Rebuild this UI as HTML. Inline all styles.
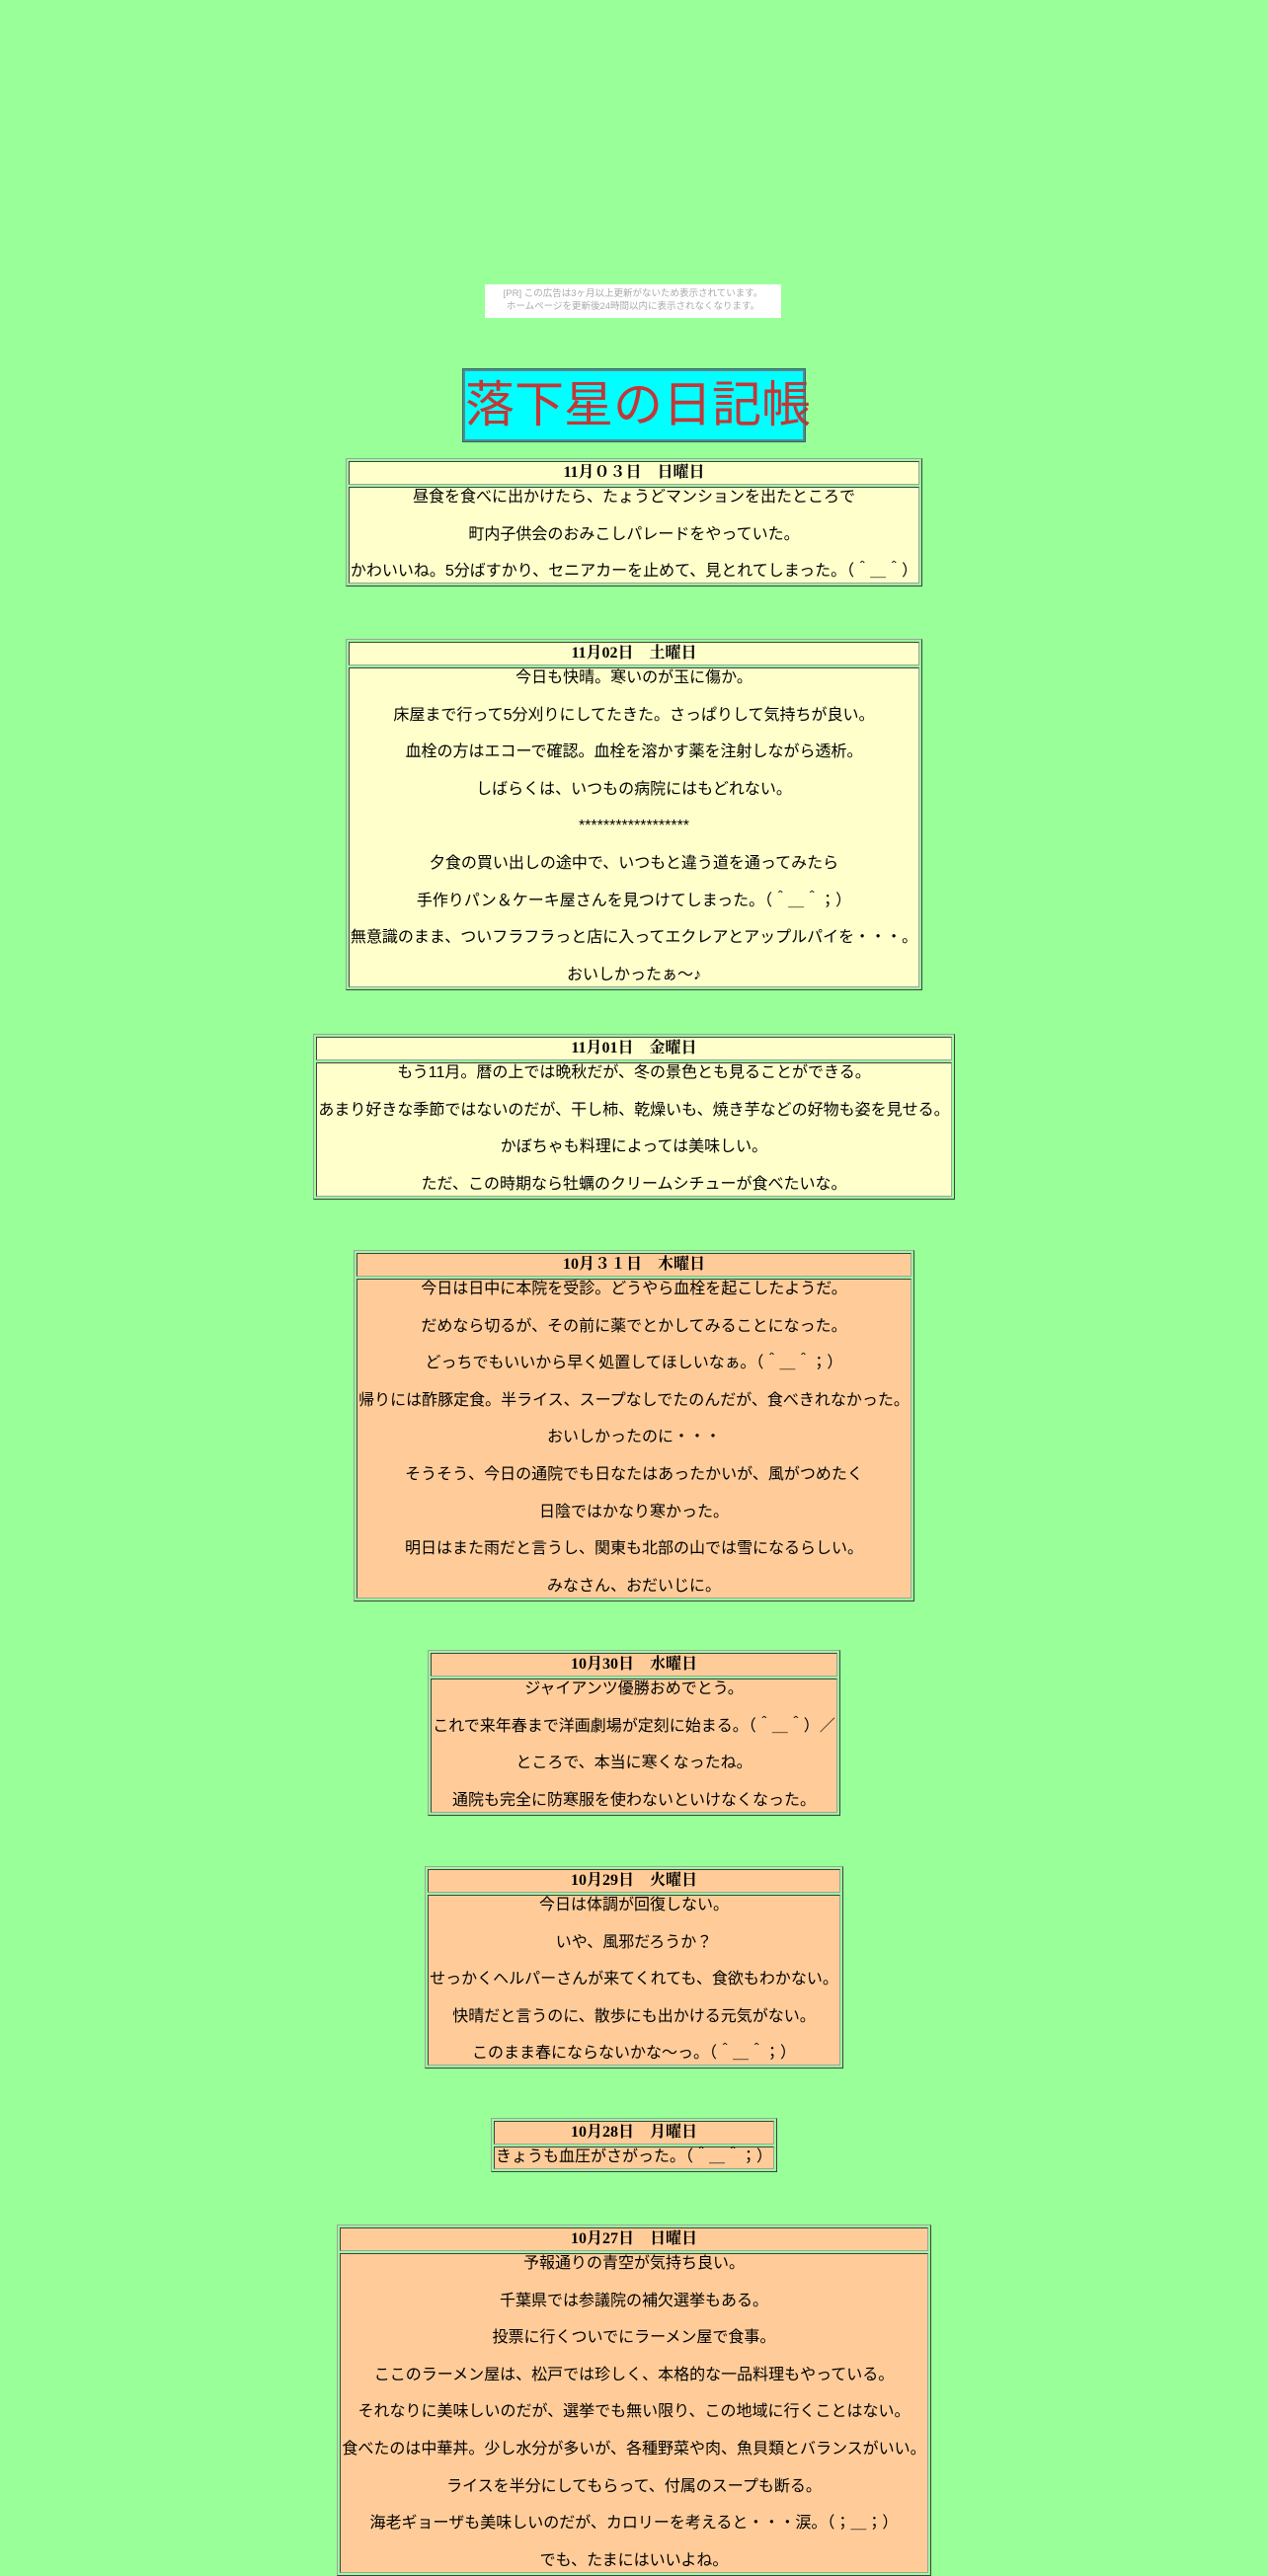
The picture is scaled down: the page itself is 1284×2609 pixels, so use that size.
<!DOCTYPE html>
<html><head><meta charset="utf-8">
<style>
html,body{margin:0;padding:0;background:#99ff99;}
body{width:1284px;height:2568px;position:relative;overflow:hidden;font-family:"Liberation Sans","Noto Sans CJK JP",sans-serif;color:#000;}
.ad{position:absolute;left:491px;top:288px;width:300px;height:34px;background:#fff;color:#aaa;font-size:9.5px;line-height:13px;text-align:center;padding-top:3px;box-sizing:border-box;}
.title{position:absolute;left:469px;top:374px;width:346px;height:73px;box-sizing:border-box;border:2px solid #5a8a8a;outline:1px solid #2a6a6a;background:#00ffff;color:#c03838;font-size:50px;line-height:69px;text-align:center;white-space:nowrap;font-family:"Liberation Sans","Noto Sans CJK JP",sans-serif;}
.w{position:absolute;left:0;width:1284px;text-align:center;}
table{display:inline-table;border-collapse:separate;border-spacing:2px;border:1px solid;border-color:#a0a0a0 #404040 #404040 #a0a0a0;margin:0 auto;}
td{border:1px solid;border-color:#404040 #a0a0a0 #a0a0a0 #404040;text-align:center;font-size:16px;white-space:nowrap;}
td.h{font-family:"Liberation Serif","Noto Serif CJK SC","Noto Sans CJK JP",serif;font-weight:bold;line-height:20px;padding:1px 1px;}
td.b{line-height:18.8px;padding:1px 1px;}
.y td{background:#ffffcc;}
.o td{background:#ffcc99;}
</style></head><body>
<div class="ad">[PR] この広告は3ヶ月以上更新がないため表示されています。<br>ホームページを更新後24時間以内に表示されなくなります。</div>
<div class="title">落下星の日記帳</div>

<div class="w" style="top:464px"><table class="y"><tr><td class="h">11月０３日　日曜日</td></tr><tr><td class="b">昼食を食べに出かけたら、たょうどマンションを出たところで<br><br>町内子供会のおみこしパレードをやっていた。<br><br>かわいいね。5分ばすかり、セニアカーを止めて、見とれてしまった。（＾＿＾）</td></tr></table></div>

<div class="w" style="top:647px"><table class="y"><tr><td class="h">11月02日　土曜日</td></tr><tr><td class="b">今日も快晴。寒いのが玉に傷か。<br><br>床屋まで行って5分刈りにしてたきた。さっぱりして気持ちが良い。<br><br>血栓の方はエコーで確認。血栓を溶かす薬を注射しながら透析。<br><br>しばらくは、いつもの病院にはもどれない。<br><br>******************<br><br>夕食の買い出しの途中で、いつもと違う道を通ってみたら<br><br>手作りパン＆ケーキ屋さんを見つけてしまった。（＾＿＾；）<br><br>無意識のまま、ついフラフラっと店に入ってエクレアとアップルパイを・・・。<br><br>おいしかったぁ～♪</td></tr></table></div>

<div class="w" style="top:1047px"><table class="y"><tr><td class="h">11月01日　金曜日</td></tr><tr><td class="b">もう11月。暦の上では晩秋だが、冬の景色とも見ることができる。<br><br>あまり好きな季節ではないのだが、干し柿、乾燥いも、焼き芋などの好物も姿を見せる。<br><br>かぼちゃも料理によっては美味しい。<br><br>ただ、この時期なら牡蠣のクリームシチューが食べたいな。</td></tr></table></div>

<div class="w" style="top:1266px"><table class="o"><tr><td class="h">10月３１日　木曜日</td></tr><tr><td class="b">今日は日中に本院を受診。どうやら血栓を起こしたようだ。<br><br>だめなら切るが、その前に薬でとかしてみることになった。<br><br>どっちでもいいから早く処置してほしいなぁ。（＾＿＾；）<br><br>帰りには酢豚定食。半ライス、スープなしでたのんだが、食べきれなかった。<br><br>おいしかったのに・・・<br><br>そうそう、今日の通院でも日なたはあったかいが、風がつめたく<br><br>日陰ではかなり寒かった。<br><br>明日はまた雨だと言うし、関東も北部の山では雪になるらしい。<br><br>みなさん、おだいじに。</td></tr></table></div>

<div class="w" style="top:1671px"><table class="o"><tr><td class="h">10月30日　水曜日</td></tr><tr><td class="b">ジャイアンツ優勝おめでとう。<br><br>これで来年春まで洋画劇場が定刻に始まる。（＾＿＾）／<br><br>ところで、本当に寒くなったね。<br><br>通院も完全に防寒服を使わないといけなくなった。</td></tr></table></div>

<div class="w" style="top:1890px"><table class="o"><tr><td class="h">10月29日　火曜日</td></tr><tr><td class="b">今日は体調が回復しない。<br><br>いや、風邪だろうか？<br><br>せっかくヘルパーさんが来てくれても、食欲もわかない。<br><br>快晴だと言うのに、散歩にも出かける元気がない。<br><br>このまま春にならないかな～っ。（＾＿＾；）</td></tr></table></div>

<div class="w" style="top:2145px"><table class="o"><tr><td class="h">10月28日　月曜日</td></tr><tr><td class="b">きょうも血圧がさがった。（＾＿＾；）</td></tr></table></div>

<div class="w" style="top:2253px"><table class="o"><tr><td class="h">10月27日　日曜日</td></tr><tr><td class="b">予報通りの青空が気持ち良い。<br><br>千葉県では参議院の補欠選挙もある。<br><br>投票に行くついでにラーメン屋で食事。<br><br>ここのラーメン屋は、松戸では珍しく、本格的な一品料理もやっている。<br><br>それなりに美味しいのだが、選挙でも無い限り、この地域に行くことはない。<br><br>食べたのは中華丼。少し水分が多いが、各種野菜や肉、魚貝類とバランスがいい。<br><br>ライスを半分にしてもらって、付属のスープも断る。<br><br>海老ギョーザも美味しいのだが、カロリーを考えると・・・涙。（；＿；）<br><br>でも、たまにはいいよね。</td></tr></table></div>
</body></html>
